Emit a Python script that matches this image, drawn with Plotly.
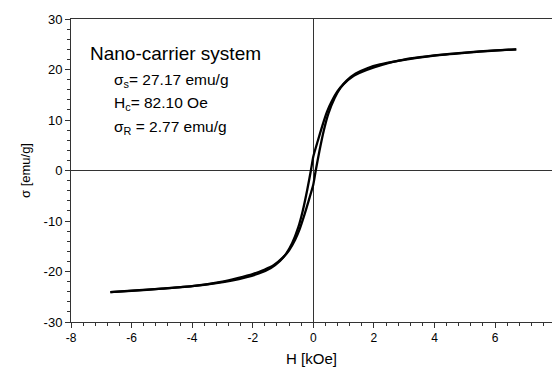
import plotly.graph_objects as go

# Descending-field branch of the hysteresis loop (H in kOe, sigma in emu/g)
h_down = [6.7, 6.0, 5.0, 4.0, 3.0, 2.5, 2.0, 1.6, 1.3, 1.0, 0.8, 0.6, 0.45, 0.3,
          0.15, 0.0, -0.08, -0.2, -0.35, -0.5, -0.7, -0.9, -1.1, -1.4, -1.8,
          -2.2, -2.7, -3.2, -4.0, -5.0, -6.0, -6.7]
s_down = [24.0, 23.75, 23.3, 22.75, 21.9, 21.3, 20.4, 19.5, 18.6, 17.1, 15.7,
          13.6, 11.6, 8.9, 5.9, 2.77, 0.0, -3.8, -8.0, -11.3, -14.4, -16.5,
          -17.9, -19.3, -20.4, -21.1, -21.8, -22.3, -22.9, -23.4, -23.85, -24.1]

# Ascending-field branch
h_up = [-6.7, -6.0, -5.0, -4.0, -3.0, -2.5, -2.0, -1.6, -1.3, -1.0, -0.8, -0.6,
        -0.45, -0.3, -0.15, 0.0, 0.08, 0.2, 0.35, 0.5, 0.7, 0.9, 1.1, 1.4, 1.8,
        2.2, 2.7, 3.2, 4.0, 5.0, 6.0, 6.7]
s_up = [-24.1, -23.8, -23.4, -22.9, -22.0, -21.3, -20.5, -19.6, -18.7, -17.2,
        -15.8, -13.7, -11.6, -8.9, -5.9, -2.77, 0.0, 3.8, 8.0, 11.3, 14.3, 16.4,
        17.8, 19.2, 20.3, 21.0, 21.6, 22.2, 22.8, 23.35, 23.8, 24.0]

x_ticks = [-8, -6, -4, -2, 0, 2, 4, 6]
y_ticks = [-30, -20, -10, 0, 10, 20, 30]

FONT = "Liberation Sans, Arial, sans-serif"

fig = go.Figure()
for hx, sy in ((h_down, s_down), (h_up, s_up)):
    fig.add_trace(go.Scatter(
        x=hx, y=sy, mode="lines",
        line=dict(color="black", width=2.3, shape="spline", smoothing=0.6),
        showlegend=False, hoverinfo="skip",
    ))

fig.add_annotation(x=-7.45, y=23.2, xref="x", yref="y", xanchor="left",
                   text="Nano-carrier system", showarrow=False,
                   font=dict(family=FONT, size=19, color="black"))
labels = [
    (17.8, "σ<sub>s</sub>= 27.17 emu/g"),
    (13.2, "H<sub>c</sub>= 82.10 Oe"),
    (8.5, "σ<sub>R</sub> = 2.77 emu/g"),
]
for yv, txt in labels:
    fig.add_annotation(x=-6.66, y=yv, xref="x", yref="y", xanchor="left",
                       text=txt, showarrow=False,
                       font=dict(family=FONT, size=15.5, color="black"))

fig.update_layout(
    width=552, height=367,
    margin=dict(l=71, r=0, t=19, b=45),
    paper_bgcolor="white", plot_bgcolor="white",
    font=dict(family=FONT, size=12, color="black"),
    xaxis=dict(
        range=[-8, 7.88], tickvals=x_ticks, ticktext=[str(v) for v in x_ticks],
        showgrid=False, zeroline=True, zerolinecolor="#333", zerolinewidth=1,
        showline=True, linecolor="#333", linewidth=1, mirror=True,
        ticks="outside", ticklen=5, tickcolor="#333", tickwidth=1,
        minor=dict(dtick=0.4, tick0=-8, ticks="outside", ticklen=3,
                   tickcolor="#333", tickwidth=1, showgrid=False),
        title=dict(text="H [kOe]", font=dict(size=15), standoff=10),
        tickfont=dict(size=12),
    ),
    yaxis=dict(
        range=[-30, 30], tickvals=y_ticks, ticktext=[str(v) for v in y_ticks],
        showgrid=False, zeroline=True, zerolinecolor="#333", zerolinewidth=1,
        showline=True, linecolor="#333", linewidth=1,
        ticks="outside", ticklen=5, tickcolor="#333", tickwidth=1,
        minor=dict(dtick=2, tick0=0, ticks="outside", ticklen=3,
                   tickcolor="#333", tickwidth=1, showgrid=False),
        title=dict(text="σ [emu/g]", font=dict(size=13), standoff=10),
        tickfont=dict(size=13),
    ),
)

fig.write_html("out.html")
